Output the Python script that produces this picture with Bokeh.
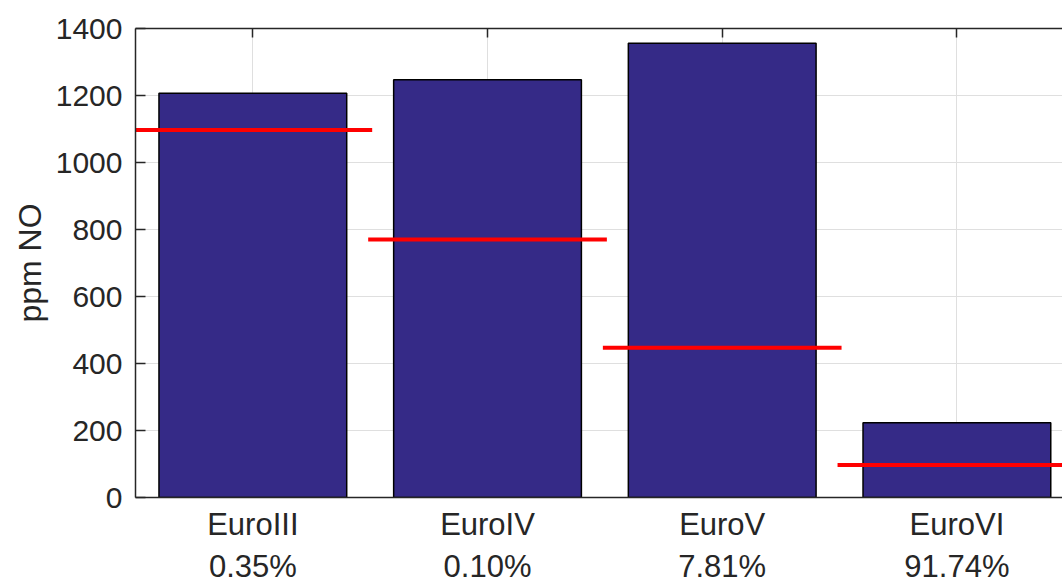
from bokeh.plotting import figure
from bokeh.models import LinearAxis, FixedTicker, Range1d, ColumnDataSource
from bokeh.embed import file_html
from bokeh.resources import INLINE

# ---- data ----
categories = ["EuroIII", "EuroIV", "EuroV", "EuroVI"]
shares = ["0.35%", "0.10%", "7.81%", "91.74%"]
ppm_no = [1207, 1247, 1356, 223]
limit_no = [1097, 770, 447, 97]
y_ticks = [0, 200, 400, 600, 800, 1000, 1200, 1400]

pos = list(range(1, len(categories) + 1))

FONT = "Liberation Sans"
TXT = "#262626"

p = figure(width=1062, height=586, output_backend="svg", toolbar_location=None,
           x_range=Range1d(0.5, 4.45), y_range=Range1d(0, 1400),
           min_border_left=135, min_border_top=28, min_border_right=0,
           min_border_bottom=0, background_fill_color="white",
           border_fill_color="white")
p.outline_line_color = None

src = ColumnDataSource(dict(x=pos, top=ppm_no, lim=limit_no,
                            x0=[v - 0.5 for v in pos], x1=[v + 0.5 for v in pos]))

p.vbar(x="x", top="top", bottom=0, width=0.8, source=src,
       fill_color="#352A87", line_color="black", line_width=1.5)
p.segment(x0="x0", x1="x1", y0="lim", y1="lim", source=src,
          line_color="#FF0000", line_width=4, line_cap="square")

# grid
p.xgrid.ticker = FixedTicker(ticks=pos)
p.ygrid.ticker = FixedTicker(ticks=y_ticks)
for g in (p.xgrid, p.ygrid):
    g.grid_line_color = "#DFDFDF"
    g.grid_line_width = 1

# x axis (categories + shares, two lines)
xa = p.xaxis[0]
xa.ticker = FixedTicker(ticks=pos)
xa.major_label_overrides = {v: f"{c}\n{s}" for v, c, s in zip(pos, categories, shares)}
xa.major_tick_in = 0
xa.major_tick_out = 0
xa.minor_tick_line_color = None
xa.axis_line_color = TXT
xa.axis_line_width = 1.5
xa.major_label_text_font = FONT
xa.major_label_text_font_size = "31px"
xa.major_label_text_color = TXT
xa.major_label_text_align = "center"
xa.major_label_standoff = 9

# top border axis
xt = LinearAxis(ticker=FixedTicker(ticks=pos), major_label_text_font_size="0px")
xt.major_label_overrides = {v: "" for v in pos}
xt.axis_line_color = TXT
xt.axis_line_width = 1.5
xt.major_tick_line_color = TXT
xt.major_tick_line_width = 1.5
xt.major_tick_in = 9
xt.major_tick_out = 0
xt.minor_tick_line_color = None
xt.major_label_standoff = 0
p.add_layout(xt, "above")

# y axis
ya = p.yaxis[0]
ya.ticker = FixedTicker(ticks=y_ticks)
ya.axis_line_color = TXT
ya.axis_line_width = 1.5
ya.major_tick_line_color = TXT
ya.major_tick_line_width = 1.5
ya.major_tick_in = 10
ya.major_tick_out = 0
ya.minor_tick_line_color = None
ya.major_label_text_font = FONT
ya.major_label_text_font_size = "30px"
ya.major_label_text_color = TXT
ya.major_label_standoff = 13
ya.axis_label = "ppm NO"
ya.axis_label_text_font = FONT
ya.axis_label_text_font_size = "32px"
ya.axis_label_text_font_style = "normal"
ya.axis_label_text_color = TXT
ya.axis_label_standoff = 5

open("out.html", "w").write(file_html(p, INLINE))
